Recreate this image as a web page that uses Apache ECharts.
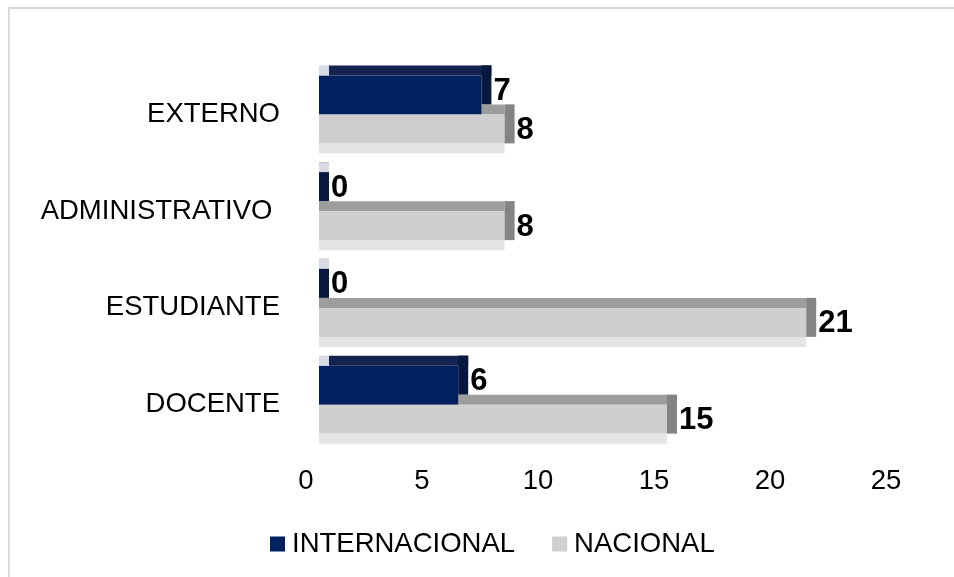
<!DOCTYPE html>
<html>
<head>
<meta charset="utf-8">
<title>INTERNACIONAL / NACIONAL</title>
<script src="https://cdn.jsdelivr.net/npm/echarts@6/dist/echarts.min.js"></script>
<style>
  html, body { margin: 0; padding: 0; background: #ffffff; }
  #chart { width: 954px; height: 577px; }
</style>
</head>
<body>
<div id="chart"></div>
<script>
// Categories, bottom to top
const categories = ['DOCENTE', 'ESTUDIANTE', 'ADMINISTRATIVO ', 'EXTERNO'];
const seriesNames = ['INTERNACIONAL', 'NACIONAL'];
const internacional = [6, 0, 0, 7];
const nacional = [15, 21, 8, 8];
const xTicks = [0, 5, 10, 15, 20, 25];

const FONT = '"Liberation Sans", Arial, sans-serif';
const TEXT_SIZE = 27.5;
const SHIFT = 13;   // floor offset of the pseudo-3D bars
const DEPTH = 10;   // depth of the top / side faces
const HEIGHT = 39;  // height of the front face

const NAVY = { front: '#002060', top: '#14234f', side: '#071840', corner: '#d9dbe4' };
const GREY = { front: '#d0cfd0', top: '#9d9d9d', side: '#858383', strip: '#e5e4e5' };

function rect(x, y, w, h, fill, z2) {
  return { type: 'rect', z2: z2, shape: { x: x, y: y, width: Math.max(w, 0), height: h }, style: { fill: fill } };
}

function label(text, x, y, z2) {
  return {
    type: 'text', z2: z2,
    style: { text: String(text), x: x, y: y, fill: '#000', font: 'bold 31px ' + FONT, align: 'left', verticalAlign: 'middle' }
  };
}

// Upper bar of each category (INTERNACIONAL)
function renderInternacional(params, api) {
  const cat = api.value(0), v = api.value(1);
  const p0 = api.coord([0, cat]);
  const pv = api.coord([v, cat]);
  const c = p0[1];
  const x0 = p0[0] + SHIFT, xv = pv[0] + SHIFT;
  const yTop = c - HEIGHT;
  return {
    type: 'group',
    children: [
      rect(x0 + DEPTH, yTop - DEPTH, xv - x0, DEPTH, NAVY.top, 5),
      rect(xv, yTop - DEPTH, DEPTH, HEIGHT, NAVY.side, 6),
      rect(x0, yTop, xv - x0, HEIGHT, NAVY.front, 6),
      rect(x0, yTop - DEPTH, DEPTH, DEPTH, NAVY.corner, 7),
      label(v, xv + DEPTH + 2, c - 23, 20)
    ]
  };
}

// Lower bar of each category (NACIONAL)
function renderNacional(params, api) {
  const cat = api.value(0), v = api.value(1);
  const p0 = api.coord([0, cat]);
  const pv = api.coord([v, cat]);
  const c = p0[1];
  const x0 = p0[0] + SHIFT, xv = pv[0] + SHIFT;
  return {
    type: 'group',
    children: [
      rect(x0, c - DEPTH, xv - x0, DEPTH, GREY.top, 1),
      rect(x0, c, xv - x0, HEIGHT - DEPTH, GREY.front, 10),
      rect(x0, c + HEIGHT - DEPTH, xv - x0, DEPTH, GREY.strip, 10),
      rect(xv, c - DEPTH, DEPTH, HEIGHT, GREY.side, 10),
      label(v, xv + DEPTH + 2, c + 16, 20)
    ]
  };
}

const chart = echarts.init(document.getElementById('chart'), null, { renderer: 'canvas' });

chart.setOption({
  animation: false,
  backgroundColor: '#ffffff',
  textStyle: { fontFamily: FONT },
  graphic: [{
    type: 'rect', silent: true,
    shape: { x: 9, y: 8, width: 1000, height: 1000 },
    style: { fill: 'none', stroke: '#d9d9d9', lineWidth: 2 }
  }],
  grid: { left: 306, right: 68, top: 66, bottom: 124, containLabel: false },
  xAxis: {
    type: 'value',
    min: xTicks[0],
    max: xTicks[xTicks.length - 1],
    interval: xTicks[1] - xTicks[0],
    axisLine: { show: false },
    axisTick: { show: false },
    splitLine: { show: false },
    axisLabel: { color: '#000', fontSize: TEXT_SIZE, fontFamily: FONT, margin: 14 }
  },
  yAxis: {
    type: 'category',
    data: categories,
    axisLine: { show: false },
    axisTick: { show: false },
    splitLine: { show: false },
    axisLabel: { color: '#000', fontSize: TEXT_SIZE, fontFamily: FONT, margin: 26 }
  },
  legend: {
    data: seriesNames,
    left: 270,
    top: 530,
    padding: 0,
    itemGap: 37,
    itemWidth: 15,
    itemHeight: 15,
    icon: 'rect',
    textStyle: { color: '#000', fontSize: TEXT_SIZE, fontFamily: FONT, padding: [0, 0, 0, 2] }
  },
  series: [
    {
      name: seriesNames[0],
      type: 'custom',
      renderItem: renderInternacional,
      itemStyle: { color: NAVY.front },
      encode: { x: 1, y: 0 },
      data: internacional.map((v, i) => [i, v])
    },
    {
      name: seriesNames[1],
      type: 'custom',
      renderItem: renderNacional,
      itemStyle: { color: GREY.front },
      encode: { x: 1, y: 0 },
      data: nacional.map((v, i) => [i, v])
    }
  ]
});
</script>
</body>
</html>
